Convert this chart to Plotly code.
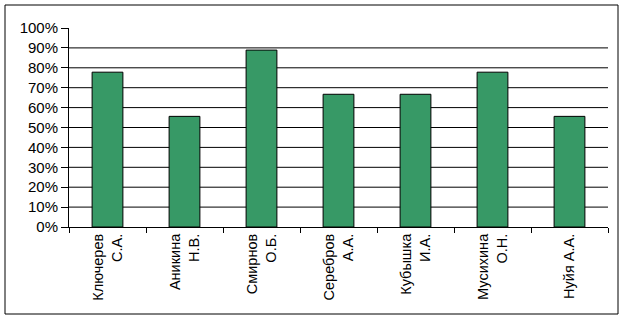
import plotly.graph_objects as go

names = ["Ключерев<br>С.А.", "Аникина<br>Н.В.", "Смирнов<br>О.Б.", "Серебров<br>А.А.",
         "Кубышка<br>И.А.", "Мусихина<br>О.Н.", "Нуйя А.А."]
values = [0.778, 0.556, 0.889, 0.667, 0.667, 0.778, 0.556]
grid_vals = [0.1, 0.2, 0.3, 0.4, 0.5, 0.6, 0.7, 0.8, 0.9]

FONT = "Liberation Sans, Arial, sans-serif"
W, H = 625, 319
L, R, T, B = 69, 17, 28, 92
pw, ph = W - L - R, H - T - B

fig = go.Figure()
fig.add_trace(go.Bar(x=names, y=values, width=0.4,
                     marker=dict(color="#379966", line=dict(color="black", width=1))))

shapes = []
for g in grid_vals:
    shapes.append(dict(type="line", xref="paper", yref="y", x0=0, x1=1, y0=g, y1=g,
                       line=dict(color="black", width=1), layer="below"))
# outer border
shapes.append(dict(type="rect", xref="paper", yref="paper",
                   x0=(5 - L) / pw, x1=(618 - L) / pw,
                   y0=(H - B - 314) / ph, y1=(H - B - 5) / ph,
                   line=dict(color="black", width=1)))

fig.update_layout(
    width=W, height=H, margin=dict(l=L, r=R, t=T, b=B),
    paper_bgcolor="white", plot_bgcolor="white",
    showlegend=False, shapes=shapes,
    font=dict(family=FONT, size=15, color="black"),
    xaxis=dict(type="category", tickson="boundaries", ticks="outside", ticklen=5,
               tickcolor="black", showline=True, linecolor="black", linewidth=1,
               showgrid=False, tickangle=-90, tickfont=dict(size=14.5, family=FONT)),
    yaxis=dict(range=[0, 1], dtick=0.1, tickformat=".0%", showgrid=False,
               ticks="outside", ticklen=7, tickcolor="black", showline=True,
               linecolor="black", linewidth=1, zeroline=False,
               tickfont=dict(size=15, family=FONT)),
)
fig.write_html("out.html")
